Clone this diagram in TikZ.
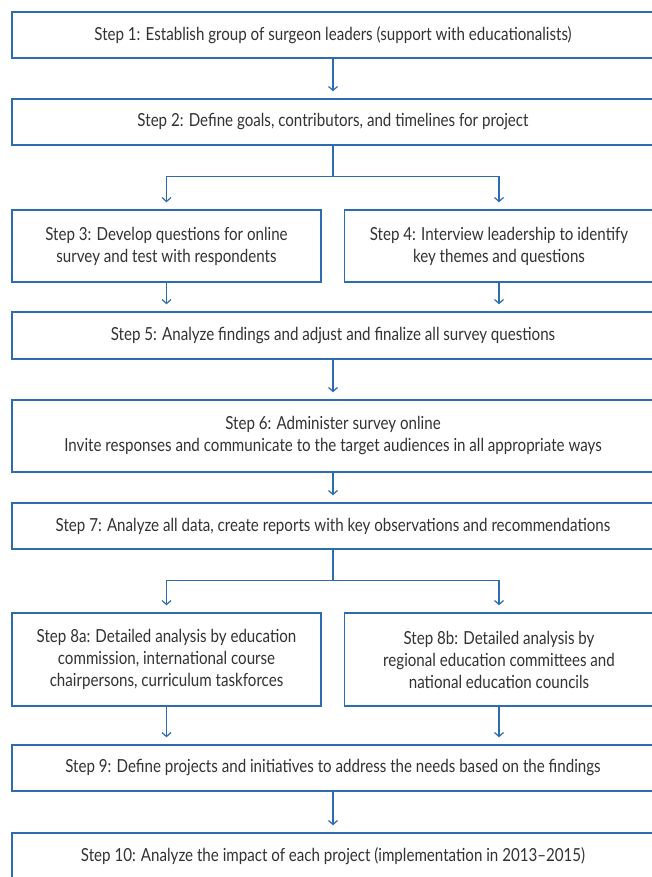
\documentclass[tikz,border=0pt]{standalone}
\usepackage{fontspec}
\setmainfont{Lato}[FakeStretch=0.84]
\usetikzlibrary{arrows.meta}
\definecolor{flowblue}{RGB}{46,108,178}
\definecolor{txtgray}{RGB}{50,50,50}
\begin{document}
\begin{tikzpicture}[x=1pt,y=-1pt,
  box/.style={draw=flowblue, line width=1.4pt, rectangle, inner sep=0pt,
    text=txtgray, align=center, font=\fontsize{18}{22}\selectfont},
  wide/.style={box, minimum width=642pt},
  half/.style={box, minimum width=309pt},
  arr/.style={draw=flowblue, line width=1.4pt, shorten >=7pt,
    -{Straight Barb[length=4pt,width=9pt,line width=1.2pt]}}]
\useasboundingbox (0,0) rectangle (651,877);
\node[wide, minimum height=46pt] (b1) at (333,35) {Step 1: Establish group of surgeon leaders (support with educationalists)};
\node[wide, minimum height=46pt] (b2) at (333,122) {Step 2: Define goals, contributors, and timelines for project};
\node[half, minimum height=72pt] (b3) at (166.5,246) {Step 3: Develop questions for online\\survey and test with respondents};
\node[half, minimum height=72pt] (b4) at (499,246) {Step 4: Interview leadership to identify\\key themes and questions};
\node[wide, minimum height=47pt] (b5) at (333,335.5) {Step 5: Analyze findings and adjust and finalize all survey questions};
\node[wide, minimum height=72pt] (b6) at (333,436) {Step 6: Administer survey online\\Invite responses and communicate to the target audiences in all appropriate ways};
\node[wide, minimum height=46pt] (b7) at (333,526) {Step 7: Analyze all data, create reports with key observations and recommendations};
\node[half, minimum height=93pt] (b8a) at (166.5,659.5) {Step 8a: Detailed analysis by education\\commission, international course\\chairpersons, curriculum taskforces};
\node[half, minimum height=93pt] (b8b) at (499,659.5) {Step 8b: Detailed analysis by\\regional education committees and\\national education councils};
\node[wide, minimum height=46pt] (b9) at (333,768) {Step 9: Define projects and initiatives to address the needs based on the findings};
\node[wide, minimum height=46pt] (b10) at (333,856) {Step 10: Analyze the impact of each project (implementation in 2013--2015)};
\draw[arr] (b1) -- (b2);
\draw[arr] (b2.south) -- ++(0,31) -| (b3.north);
\draw[arr] (b2.south) -- ++(0,31) -| (b4.north);
\draw[arr] (b3.south) -- (b3.south |- b5.north);
\draw[arr] (b4.south) -- (b4.south |- b5.north);
\draw[arr] (b5) -- (b6);
\draw[arr] (b6) -- (b7);
\draw[arr] (b7.south) -- ++(0,31) -| (b8a.north);
\draw[arr] (b7.south) -- ++(0,31) -| (b8b.north);
\draw[arr] (b8a.south) -- (b8a.south |- b9.north);
\draw[arr] (b8b.south) -- (b8b.south |- b9.north);
\draw[arr] (b9) -- (b10);
\end{tikzpicture}
\end{document}
